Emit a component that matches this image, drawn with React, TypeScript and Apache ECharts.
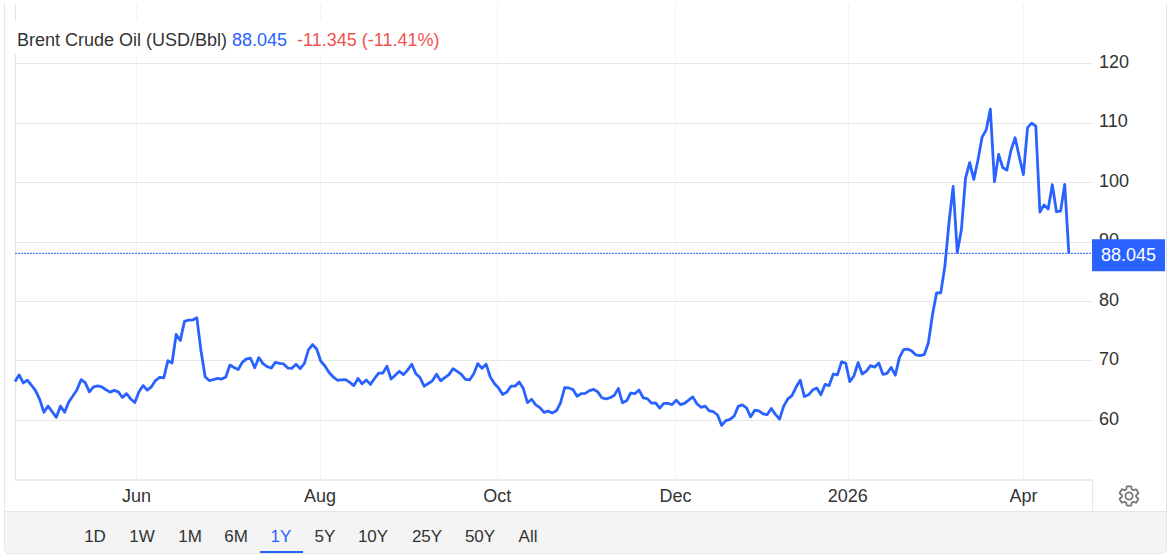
import React, { useEffect, useRef } from "react";
import * as echarts from "echarts";

// daily closes
const closes = [
  66.5, 67.6, 66.25, 66.7, 65.85, 64.9, 63.45, 61.3, 62.35, 61.4, 60.45, 62.35, 61.3, 63.05, 64.05, 65.1,
  66.8, 66.3, 64.75, 65.6, 65.75, 65.6, 65.1, 64.7, 65, 64.75, 63.8, 64.45, 63.55, 62.95, 64.75, 65.8,
  65.05, 65.6, 66.65, 67.2, 67.1, 70, 69.6, 74.4, 73.4, 76.6, 76.8, 76.85, 77.2, 71.7, 67.3, 66.65,
  66.8, 67, 66.9, 67.25, 69.25, 68.85, 68.5, 69.7, 70.3, 70.4, 68.8, 70.5, 69.5, 69, 68.75, 69.7,
  69.55, 69.45, 68.75, 68.7, 69.4, 68.65, 69.5, 71.8, 72.7, 71.95, 69.9, 69.1, 68, 67.25, 66.7, 66.75,
  66.8, 66.35, 65.8, 67, 66.1, 66.75, 66, 67, 67.9,
  67.9, 69.05, 66.9, 67.55, 68.2, 67.65, 68.4, 69.4, 67.8, 67.15, 65.7, 66.15, 66.6, 67.7, 66.6, 67.15,
  67.65, 68.65, 68.2, 67.7, 66.85, 66.75, 67.8, 69.5, 68.7, 69.4, 67.25, 66.15, 65.4, 64.3, 64.7, 65.7,
  65.7, 66.4, 65.3, 62.95, 63.5, 62.55, 62.1, 61.3, 61.5, 61.2, 61.55, 62.9, 65.45, 65.4, 65.15, 64,
  64.45, 64.5, 64.95, 65.15, 64.75, 63.75, 63.55, 63.75, 64.15, 65.3, 62.9, 63.25, 64.55, 64.45, 65.05, 63.75,
  63.6, 62.85, 62.9, 62, 62.8, 62.8, 62.6, 63.35, 62.6, 62.8, 63.35, 63.9, 62.75, 62.15, 62.35, 61.55,
  61.4, 60.85, 59.1, 59.9, 60.1, 60.65, 62.3, 62.55, 62.05, 60.55,
  61.65, 61.55, 61.05, 60.9, 61.95, 60.95, 60.15, 62.35, 63.55, 64.1, 65.55, 66.7, 63.95, 64.25, 65.05, 65.4,
  64.25, 66, 65.8, 67.75, 67.6, 69.8, 69.6, 66.45, 67.45, 69.65, 67.75, 68.25, 69.15, 68.9, 69.6, 67.7,
  67.85, 68.85, 67.55, 70.5, 71.85, 71.95, 71.6, 70.95, 70.85, 71, 72.95, 77.7, 81.4, 81.4, 85.9, 93.2,
  99.3, 88.2, 92, 100.7, 103.3, 100.5, 103.7, 107.6, 108.8, 112.3, 100.1, 104.7, 102.5, 102.05, 105.4, 107.5,
  104.3, 101.3, 109.2, 109.95, 109.45, 95, 96.2, 95.5, 99.6, 95.05, 95.15, 99.65, 88.045,
];

const monthLabels = ["Jun", "Aug", "Oct", "Dec", "2026", "Apr"];
const monthTicks = [29.4, 73.8, 116.7, 159.8, 201.5, 244];
const ranges = ["1D", "1W", "1M", "6M", "1Y", "5Y", "10Y", "25Y", "50Y", "All"];
const rangeCenters = [95, 142, 190, 236, 281, 325, 373, 427, 480, 528];
const lastPrice = 88.045;
const xEnd = 260.6;

const BLUE = "#2962ff";
const GRID = "#e6e6e6";
const GEAR =
  "M19.14 12.94c.04-.3.06-.61.06-.94 0-.32-.02-.64-.07-.94l2.03-1.58c.18-.14.23-.41.12-.61l-1.92-3.32c-.12-.22-.37-.29-.59-.22l-2.39.96c-.5-.38-1.03-.7-1.62-.94l-.36-2.54c-.04-.24-.24-.41-.48-.41h-3.84c-.24 0-.43.17-.47.41l-.36 2.54c-.59.24-1.13.57-1.62.94l-2.39-.96c-.22-.08-.47 0-.59.22L2.74 8.87c-.12.21-.08.47.12.61l2.03 1.58c-.05.3-.09.63-.09.94s.02.64.07.94l-2.03 1.58c-.18.14-.23.41-.12.61l1.92 3.32c.12.22.37.29.59.22l2.39-.96c.5.38 1.03.7 1.62.94l.36 2.54c.05.24.24.41.48.41h3.84c.24 0 .44-.17.47-.41l.36-2.54c.59-.24 1.13-.56 1.62-.94l2.39.96c.22.08.47 0 .59-.22l1.92-3.32c.12-.22.07-.47-.12-.61l-2.01-1.58zM12 15.6c-1.98 0-3.6-1.62-3.6-3.6s1.62-3.6 3.6-3.6 3.6 1.62 3.6 3.6-1.62 3.6-3.6 3.6z";

echarts.graphic.registerShape("gear", echarts.graphic.extendPath(GEAR, {}));

const font = "Liberation Sans, Arial, sans-serif";

const App: React.FC = () => {
  const chartRef = useRef<HTMLDivElement>(null);

  useEffect(() => {
    if (!chartRef.current) return;
    const chart = echarts.init(chartRef.current, undefined, { renderer: "svg" });
    const title = (text: string, x: number, fill: string) => ({
      type: "text",
      x,
      y: 40,
      z: 10,
      style: { text, fill, font: `18px ${font}`, textVerticalAlign: "middle" },
    });
    const border = (x1: number, y1: number, x2: number, y2: number) => ({
      type: "line",
      z: 1,
      shape: { x1, y1, x2, y2 },
      style: { stroke: GRID, lineWidth: 1 },
    });
    chart.setOption({
      animation: false,
      textStyle: { fontFamily: font },
      grid: { left: 15, right: 79, top: 4, bottom: 76.5 },
      xAxis: {
        type: "value",
        min: 0,
        max: xEnd,
        axisLine: { show: true, onZero: false, lineStyle: { color: GRID, width: 1.5 } },
        axisTick: { show: false, customValues: monthTicks },
        axisLabel: {
          customValues: monthTicks,
          color: "#333333",
          fontSize: 18,
          margin: 7,
          formatter: (v: number) => monthLabels[monthTicks.indexOf(v)] ?? "",
        },
        splitLine: { show: true, lineStyle: { color: "#f1f3f6", width: 1 } },
      },
      yAxis: {
        type: "value",
        position: "right",
        min: 50,
        max: 130,
        interval: 10,
        axisLine: { show: true, lineStyle: { color: GRID, width: 1 } },
        axisTick: { show: false },
        axisLabel: {
          color: "#333333",
          fontSize: 18,
          margin: 7,
          verticalAlign: "bottom",
          lineHeight: 3,
          showMinLabel: false,
          showMaxLabel: false,
        },
        splitLine: { show: true, showMinLine: false, showMaxLine: false, lineStyle: { color: GRID, width: 1 } },
      },
      series: [
        {
          type: "line",
          data: closes.map((v, i) => [i, v]),
          showSymbol: false,
          lineStyle: { color: BLUE, width: 2.8, join: "round" },
        },
        {
          type: "line",
          z: 3,
          silent: true,
          data: [
            [0, lastPrice],
            [xEnd, lastPrice],
          ],
          showSymbol: false,
          lineStyle: { color: BLUE, type: [2, 1], width: 1 },
          endLabel: {
            show: true,
            distance: 0,
            offset: [0, 2],
            formatter: String(lastPrice),
            color: "#ffffff",
            backgroundColor: BLUE,
            fontSize: 18,
            padding: [7, 9, 7, 9],
          },
        },
      ],
      graphic: [
        { type: "rect", z: 9, shape: { x: 15, y: 21, width: 435, height: 33 }, style: { fill: "#ffffff" } },
        title("Brent Crude Oil (USD/Bbl)", 17, "#333333"),
        title("88.045", 232, BLUE),
        title("-11.345 (-11.41%)", 297, "#ef5350"),
        border(4.5, 3, 4.5, 548),
        border(1166.5, 3, 1166.5, 548),
        border(1092.5, 479, 1092.5, 511),
        {
          type: "rect",
          z: 1,
          shape: { x: 4.5, y: 511.5, width: 1162, height: 42, r: [0, 0, 5, 5] },
          style: { fill: "#f4f4f4", stroke: GRID, lineWidth: 1 },
        },
        ...ranges.map((text, i) => ({
          type: "text",
          z: 10,
          x: rangeCenters[i],
          y: 536,
          style: {
            text,
            fill: text === "1Y" ? BLUE : "#333333",
            font: `17px ${font}`,
            textAlign: "center",
            textVerticalAlign: "middle",
          },
        })),
        { type: "rect", z: 10, shape: { x: 260, y: 551, width: 43, height: 2 }, style: { fill: BLUE } },
        {
          type: "gear",
          z: 10,
          x: 1117,
          y: 484,
          scaleX: 1,
          scaleY: 1,
          style: { fill: "none", stroke: "#777777", lineWidth: 1.8 },
        },
      ],
    });
    return () => chart.dispose();
  }, []);

  return (
    <div
      ref={chartRef}
      style={{ position: "absolute", left: 0, top: 0, width: 1171, height: 556, background: "#ffffff" }}
    ></div>
  );
};

export default App;
